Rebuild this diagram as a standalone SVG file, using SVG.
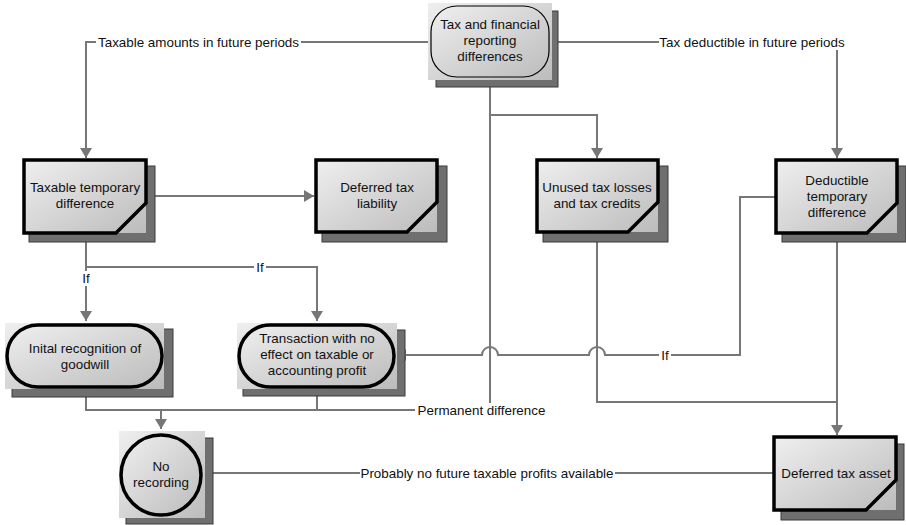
<svg xmlns="http://www.w3.org/2000/svg" width="906" height="525" viewBox="0 0 906 525">
  <defs>
    <linearGradient id="fillGrad" x1="0" y1="0" x2="1" y2="1">
      <stop offset="0" stop-color="#efefef"/>
      <stop offset="1" stop-color="#bcbcbc"/>
    </linearGradient>
    <marker id="arrow" markerUnits="userSpaceOnUse" markerWidth="12" markerHeight="12" refX="10" refY="6" orient="auto">
      <path d="M0,0 L10,6 L0,12 Z" fill="#767676"/>
    </marker>
    <style>
      .shadow { fill: #6f6f6f; stroke: #3a3a3a; stroke-width: 1; }
      .bg { fill: url(#fillGrad); }
      .shape { fill: url(#fillGrad); stroke: #000; stroke-width: 3.5; stroke-linejoin: miter; }
      .thin { fill: url(#fillGrad); stroke: #000; stroke-width: 1.2; }
      .node-text { font-family: "Liberation Sans", Arial, sans-serif; font-size: 13.4px; fill: #111; text-anchor: middle; }
      .conn { fill: none; stroke: #777; stroke-width: 2; }
      .label { font-family: "Liberation Sans", Arial, sans-serif; font-size: 13.4px; fill: #111; text-anchor: middle; }
      .label-bg { fill: #fff; }
    </style>
  </defs>

  <!-- connectors (drawn beneath the nodes) -->
  <g id="connectors">
    <path class="conn" d="M430,42 H86 V158" marker-end="url(#arrow)"/>
    <path class="conn" d="M550,42 H837 V158" marker-end="url(#arrow)"/>
    <path class="conn" d="M490,78 V410 H161 V429" marker-end="url(#arrow)"/>
    <path class="conn" d="M490,115 H597 V158" marker-end="url(#arrow)"/>
    <path class="conn" d="M146,196 H314" marker-end="url(#arrow)"/>
    <path class="conn" d="M86,233 V321" marker-end="url(#arrow)"/>
    <path class="conn" d="M86,267 H317 V321" marker-end="url(#arrow)"/>
    <path class="conn" d="M86,389 V410 H162"/>
    <path class="conn" d="M317,389 V410"/>
    <path class="conn" d="M776,197 H740 V355 H605 A8,8 0 0 0 589,355 H498 A8,8 0 0 0 482,355 H396" marker-end="url(#arrow)"/>
    <path class="conn" d="M597,232 V402 H837"/>
    <path class="conn" d="M837,233 V435" marker-end="url(#arrow)"/>
    <path class="conn" d="M774,473 H203" marker-end="url(#arrow)"/>

    <!-- connector labels -->
    <rect class="label-bg" x="96" y="35" width="205" height="15"/>
    <text class="label" x="198.5" y="47">Taxable amounts in future periods</text>
    <rect class="label-bg" x="659" y="35" width="186" height="15"/>
    <text class="label" x="752" y="47">Tax deductible in future periods</text>
    <rect class="label-bg" x="80" y="271" width="12" height="15"/>
    <text class="label" x="86" y="283">If</text>
    <rect class="label-bg" x="254" y="260" width="12" height="15"/>
    <text class="label" x="260" y="272">If</text>
    <rect class="label-bg" x="659" y="348" width="12" height="15"/>
    <text class="label" x="665" y="360">If</text>
    <rect class="label-bg" x="415" y="403" width="133" height="15"/>
    <text class="label" x="481.5" y="415">Permanent difference</text>
    <rect class="label-bg" x="360" y="466" width="255" height="15"/>
    <text class="label" x="487" y="478">Probably no future taxable profits available</text>
  </g>

  <g id="node-tax-financial">
    <rect class="shadow" x="436" y="11" width="122" height="76"/>
    <rect class="bg" x="428" y="3" width="124" height="77"/>
    <rect class="thin" x="431" y="6" width="118" height="71" rx="26" ry="26"/>
    <text class="node-text" x="490" y="29">Tax and financial</text>
    <text class="node-text" x="490" y="45">reporting</text>
    <text class="node-text" x="490" y="61">differences</text>
  </g>

  <g id="node-taxable-temporary">
    <rect class="shadow" x="29" y="166" width="126" height="76"/>
    <rect class="bg" x="24" y="160" width="122" height="73"/>
    <path class="shape" d="M24,160 H146 V203 L116,233 H24 Z"/>
    <text class="node-text" x="85" y="192">Taxable temporary</text>
    <text class="node-text" x="85" y="208">difference</text>
  </g>

  <g id="node-deferred-liability">
    <rect class="shadow" x="322" y="166" width="125" height="76"/>
    <rect class="bg" x="316" y="160" width="121" height="72"/>
    <path class="shape" d="M316,160 H437 V202 L407,232 H316 Z"/>
    <text class="node-text" x="377" y="192">Deferred tax</text>
    <text class="node-text" x="377" y="208">liability</text>
  </g>

  <g id="node-unused-losses">
    <rect class="shadow" x="543" y="166" width="125" height="76"/>
    <rect class="bg" x="537" y="160" width="121" height="72"/>
    <path class="shape" d="M537,160 H658 V202 L628,232 H537 Z"/>
    <text class="node-text" x="597" y="192">Unused tax losses</text>
    <text class="node-text" x="597" y="208">and tax credits</text>
  </g>

  <g id="node-deductible-temporary">
    <rect class="shadow" x="782" y="166" width="124" height="76"/>
    <rect class="bg" x="776" y="160" width="121" height="73"/>
    <path class="shape" d="M776,160 H897 V203 L867,233 H776 Z"/>
    <text class="node-text" x="837" y="185">Deductible</text>
    <text class="node-text" x="837" y="201">temporary</text>
    <text class="node-text" x="837" y="217">difference</text>
  </g>

  <g id="node-goodwill">
    <rect class="shadow" x="12" y="329" width="161" height="68"/>
    <rect class="bg" x="5" y="323" width="159" height="66"/>
    <rect class="shape" x="7" y="325" width="155" height="62" rx="31" ry="31"/>
    <text class="node-text" x="85" y="353">Inital recognition of</text>
    <text class="node-text" x="85" y="369">goodwill</text>
  </g>

  <g id="node-transaction">
    <rect class="shadow" x="243" y="330" width="162" height="66"/>
    <rect class="bg" x="237" y="323" width="160" height="66"/>
    <rect class="shape" x="239" y="325" width="155" height="62" rx="31" ry="31"/>
    <text class="node-text" x="317" y="343">Transaction with no</text>
    <text class="node-text" x="317" y="359">effect on taxable or</text>
    <text class="node-text" x="317" y="375">accounting profit</text>
  </g>

  <g id="node-no-recording">
    <rect class="shadow" x="126" y="438" width="87" height="86"/>
    <rect class="bg" x="119" y="431" width="86" height="87"/>
    <circle class="shape" cx="161" cy="475" r="40"/>
    <text class="node-text" x="161" y="471">No</text>
    <text class="node-text" x="161" y="487">recording</text>
  </g>

  <g id="node-deferred-asset">
    <rect class="shadow" x="781" y="444" width="123" height="76"/>
    <rect class="bg" x="774" y="437" width="122" height="73"/>
    <path class="shape" d="M774,437 H896 V480 L866,510 H774 Z"/>
    <text class="node-text" x="836" y="478">Deferred tax asset</text>
  </g>
</svg>
